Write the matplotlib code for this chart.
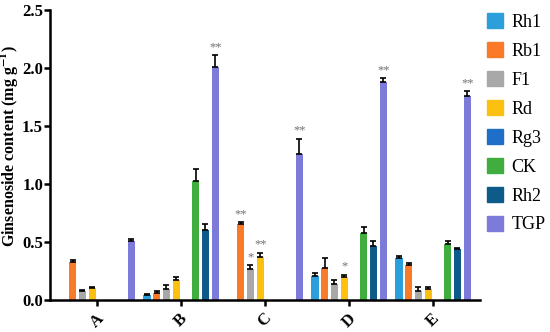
import matplotlib
matplotlib.use("Agg")
import matplotlib.pyplot as plt
import numpy as np
from matplotlib.patches import Patch

plt.rcParams['font.family'] = ['Liberation Serif', 'DejaVu Serif']
plt.rcParams['mathtext.fontset'] = 'stix'
plt.rcParams['mathtext.default'] = 'bf'

groups = ["A", "B", "C", "D", "E"]
compounds = ["Rh1", "Rb1", "F1", "Rd", "Rg3", "CK", "Rh2", "TGP"]
colors = ["#2a9fdc", "#f97b2a", "#a8a8a8", "#fcc010", "#1f6fc9", "#3fae3f", "#0e5a88", "#7c7bd9"]

# one list per compound, values for groups A..E
means = {
    "Rh1": [0.00, 0.04, 0.00, 0.21, 0.36],
    "Rb1": [0.33, 0.06, 0.66, 0.28, 0.30],
    "F1":  [0.075, 0.10, 0.27, 0.14, 0.08],
    "Rd":  [0.105, 0.17, 0.37, 0.20, 0.10],
    "Rg3": [0.00, 0.00, 0.00, 0.00, 0.00],
    "CK":  [0.00, 1.03, 0.00, 0.58, 0.48],
    "Rh2": [0.00, 0.60, 0.00, 0.47, 0.44],
    "TGP": [0.51, 2.01, 1.26, 1.88, 1.76],
}
errors = {
    "Rh1": [0.00, 0.01, 0.00, 0.02, 0.02],
    "Rb1": [0.02, 0.02, 0.01, 0.08, 0.02],
    "F1":  [0.01, 0.03, 0.03, 0.03, 0.03],
    "Rd":  [0.01, 0.03, 0.04, 0.02, 0.01],
    "Rg3": [0.00, 0.00, 0.00, 0.00, 0.00],
    "CK":  [0.00, 0.10, 0.00, 0.05, 0.03],
    "Rh2": [0.00, 0.06, 0.00, 0.04, 0.01],
    "TGP": [0.02, 0.10, 0.13, 0.03, 0.04],
}
# significance marks: (compound, group index, text)
stars = [("TGP", 1, "**"), ("Rb1", 2, "**"), ("F1", 2, "*"), ("Rd", 2, "**"),
         ("TGP", 2, "**"), ("Rd", 3, "*"), ("TGP", 3, "**"), ("TGP", 4, "**")]

fig = plt.figure(figsize=(5.5, 3.32), dpi=100)
ax = fig.add_axes([0.091, 0.096, 0.782, 0.874])

x = np.arange(len(groups))
step = 0.116
width = 0.085
for i, c in enumerate(compounds):
    pos = x + (i - 3.5) * step
    m = np.array(means[c])
    e = np.array(errors[c])
    ax.bar(pos, m, width, color=colors[i])
    has = m > 0
    ax.errorbar(pos[has], m[has], yerr=[np.zeros(has.sum()), e[has]], fmt='none',
                ecolor='black', elinewidth=1.2, capsize=2.5, capthick=1.2)

for c, g, s in stars:
    i = compounds.index(c)
    xp = x[g] + (i - 3.5) * step
    yp = means[c][g] + errors[c][g] + 0.02
    ax.text(xp, yp, s, ha='center', va='bottom', color='#707070', fontsize=9)

ax.set_xlim(-0.56, 4.56)
ax.set_ylim(0, 2.5)
ax.set_yticks([0, 0.5, 1.0, 1.5, 2.0, 2.5])
ax.set_yticklabels(["0.0", "0.5", "1.0", "1.5", "2.0", "2.5"], fontsize=12, fontweight='bold')
ax.set_xticks(x)
ax.set_xticklabels(groups, rotation=45, fontsize=12, fontweight='bold')
ax.set_ylabel(r"Ginsenoside content (mg g$^{-1}$)", fontsize=11.5, fontweight='bold')
ax.yaxis.set_label_coords(-0.068, 0.53)
for sp in ["top", "right"]:
    ax.spines[sp].set_visible(False)
for sp in ["left", "bottom"]:
    ax.spines[sp].set_linewidth(1.8)
ax.tick_params(width=1.8, length=4)
ax.tick_params(axis='y', pad=1)

handles = [Patch(color=colors[i], label=c) for i, c in enumerate(compounds)]
fig.legend(handles=handles, loc='upper left', bbox_to_anchor=(0.886, 0.96), frameon=False,
           fontsize=13, handlelength=0.85, handleheight=0.9, labelspacing=0.62,
           handletextpad=0.5, borderpad=0, borderaxespad=0)

fig.savefig("out.png", dpi=100)
